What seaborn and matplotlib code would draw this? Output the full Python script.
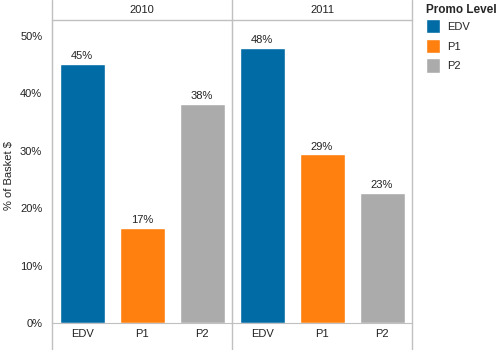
import pandas as pd
import matplotlib.pyplot as plt
import seaborn as sns
from matplotlib.lines import Line2D
from matplotlib.ticker import FuncFormatter

years = ["2010", "2011"]
promo_levels = ["EDV", "P1", "P2"]
share_2010 = [45.2, 16.6, 38.2]
share_2011 = [47.9, 29.4, 22.7]
colors = ["#006BA4", "#FF800E", "#ABABAB"]

df = pd.DataFrame({
    "Year": [y for y in years for _ in promo_levels],
    "Promo Level": promo_levels * 2,
    "Share": share_2010 + share_2011,
})

sns.set_style("white")
plt.rcParams["font.family"] = ["Liberation Sans", "DejaVu Sans"]
plt.rcParams["font.size"] = 8
grid_col = "#C0C0C0"
text_col = "#222222"

W, H = 498, 350
fig = plt.figure(figsize=(W / 100, H / 100), dpi=100)

left, top, bottom, pw = 52, 20, 323, 180
axes = []
for i, year in enumerate(years):
    x0 = left + i * pw
    ax = fig.add_axes([x0 / W, (H - bottom) / H, pw / W, (bottom - top) / H])
    sub = df[df["Year"] == year]
    sns.barplot(data=sub, x="Promo Level", y="Share", hue="Promo Level",
                order=promo_levels, hue_order=promo_levels,
                palette=colors, width=0.75, legend=(i == 0), ax=ax,
                saturation=1)
    for c in ax.containers:
        ax.bar_label(c, fmt="%.0f%%", padding=2, fontsize=8, color=text_col)
    ax.set_ylim(0, 52.8)
    ax.set_xlim(-0.5, 2.5)
    ax.set_xlabel("")
    ax.set_ylabel("")
    for s in ["top", "right"]:
        ax.spines[s].set_visible(False)
    ax.spines["left"].set_color(grid_col)
    ax.spines["bottom"].set_color(grid_col)
    ax.tick_params(axis="x", length=0, pad=4, colors=text_col, labelsize=8)
    ax.set_xticks([0.5, 1.5], minor=True)
    ax.tick_params(axis="x", which="minor", length=5, color=grid_col)
    ax.set_yticks([0, 10, 20, 30, 40, 50])
    if i == 0:
        ax.yaxis.set_major_formatter(FuncFormatter(lambda v, p: f"{v:.0f}%"))
        ax.tick_params(axis="y", length=5, colors=text_col, labelsize=8, pad=2)
        ax.tick_params(axis="y", color=grid_col)
    else:
        ax.tick_params(axis="y", length=0, labelleft=False)
    axes.append(ax)
    fig.text((x0 + pw / 2) / W, 1 - 10 / H, year, ha="center", va="center",
             fontsize=8, color=text_col)

fig.text(9 / W, 1 - 176 / H, "% of Basket $", rotation=90, ha="center",
         va="center", fontsize=8, color=text_col)

# header / footer rules
for xp in [left, left + pw, left + 2 * pw]:
    fig.add_artist(Line2D([xp / W, xp / W], [0, 1], color=grid_col, lw=1))
fig.add_artist(Line2D([left / W, (left + 2 * pw) / W], [1 - top / H, 1 - top / H],
                      color=grid_col, lw=1))

handles, labels = axes[0].get_legend_handles_labels()
axes[0].get_legend().remove()
leg = fig.legend(handles, labels, title="Promo Level", loc="upper left",
                 bbox_to_anchor=(422 / W, 1 - 0 / H), frameon=False,
                 fontsize=8, handlelength=1.26, handleheight=1.57,
                 labelspacing=0.5, handletextpad=0.6, borderaxespad=0,
                 title_fontproperties={"weight": "bold", "size": 8.5})
leg._legend_box.align = "left"
leg._legend_box.sep = 2

fig.savefig("out.png", dpi=100)
